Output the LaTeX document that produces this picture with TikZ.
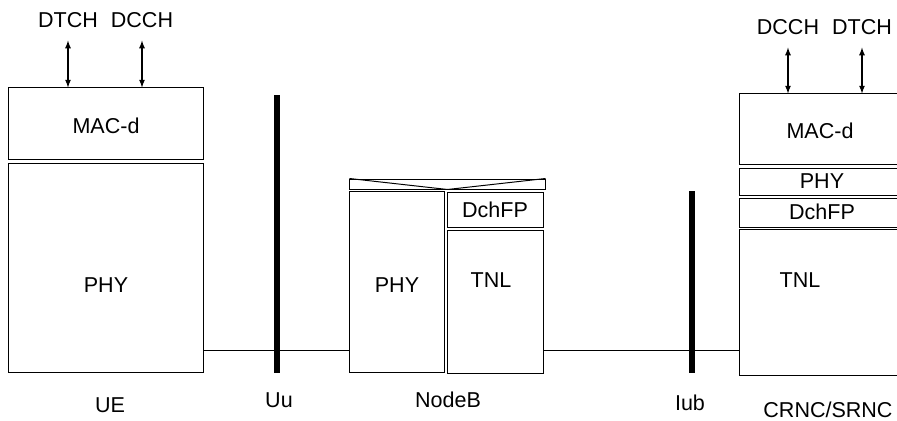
\documentclass[tikz,border=0pt]{standalone}
\usepackage{fontspec}
\setmainfont{Liberation Sans}
\usepackage{tikz}
\usetikzlibrary{arrows,positioning,calc}
\tikzset{>=latex}
\tikzset{
  layer/.style={draw, line width=0.7pt, inner sep=0pt},
  txt/.style={font=\fontsize{15.3}{18}\selectfont, inner sep=0pt},
  bar/.style={line width=3.6pt}
}

\begin{document}
\begin{tikzpicture}[x=0.025cm, y=-0.025cm]
\useasboundingbox (0,0) rectangle (897,421);
\clip (0,0) rectangle (897,421);
% UE
\node[layer, minimum width=4.85cm, minimum height=1.775cm] (uemac) at (106,123.5) {};
\node[layer, minimum width=4.85cm, minimum height=5.2cm] (uephy) at (106,268) {};
\node[txt] (uemact) at (106,126) {MAC-d};
\node[txt] (uephyt) at (106,285) {PHY};
\node[txt] (ue) at (110,405) {UE};
\node[txt] (uedtch) at (68,20) {DTCH};
\node[txt] (uedcch) at (142,20) {DCCH};
% NodeB
\node[layer, minimum width=4.875cm, minimum height=0.25cm] (nbtop) at (447.5,184) {};
\node[layer, minimum width=2.35cm, minimum height=4.5cm] (nbphy) at (397,282) {};
\node[layer, minimum width=2.375cm, minimum height=0.875cm] (nbfp) at (495.5,209.5) {};
\node[layer, minimum width=2.375cm, minimum height=3.55cm] (nbtnl) at (495.5,302) {};
\node[txt] (nbphyt) at (397,285) {PHY};
\node[txt] (nbfpt) at (495,210) {DchFP};
\node[txt] (nbtnlt) at (491,280) {TNL};
\node[txt] (nb) at (448,400) {NodeB};
% CRNC/SRNC
\node[layer, minimum width=4.125cm, minimum height=1.75cm] (rncmac) at (822.5,129) {};
\node[layer, minimum width=4.125cm, minimum height=0.675cm] (rncphy) at (822.5,181.5) {};
\node[layer, minimum width=4.125cm, minimum height=0.725cm] (rncfp) at (822.5,212.5) {};
\node[layer, minimum width=4.125cm, minimum height=3.625cm] (rnctnl) at (822.5,302.5) {};
\node[txt] (rncmact) at (820,131) {MAC-d};
\node[txt] (rncphyt) at (822,181) {PHY};
\node[txt] (rncfpt) at (822,212) {DchFP};
\node[txt] (rnctnlt) at (800,280) {TNL};
\node[txt] (rnc) at (828,410) {CRNC/SRNC};
\node[txt] (rncdcch) at (788,27) {DCCH};
\node[txt] (rncdtch) at (862,27) {DTCH};
% interfaces
\coordinate (uutop) at (277,95);
\coordinate (uubot) at (277,373);
\coordinate (iubtop) at (692,191);
\coordinate (iubbot) at (692,373);
\coordinate (link) at (0,350);
\node[txt] (uu) at (279,400) {Uu};
\node[txt] (iub) at (690,403) {Iub};
\begin{scope}[line width = 0.7pt]
\draw (nbtop.north west) -- (nbtop.south) -- (nbtop.north east);
\draw (uephy.east |- link) -- (nbphy.west |- link);
\draw (nbtnl.east |- link) -- (rnctnl.west |- link);
\end{scope}
\begin{scope}[line width = 0.9pt]
\draw[<->] ([yshift=-9pt]uedtch.south) -- (uedtch.south |- uemac.north);
\draw[<->] ([yshift=-9pt]uedcch.south) -- (uedcch.south |- uemac.north);
\draw[<->] ([yshift=-9pt]rncdcch.south) -- (rncdcch.south |- rncmac.north);
\draw[<->] ([yshift=-9pt]rncdtch.south) -- (rncdtch.south |- rncmac.north);
\end{scope}
\draw[bar] (uutop) -- (uubot);
\draw[bar] (iubtop) -- (iubbot);
\end{tikzpicture}
\end{document}
